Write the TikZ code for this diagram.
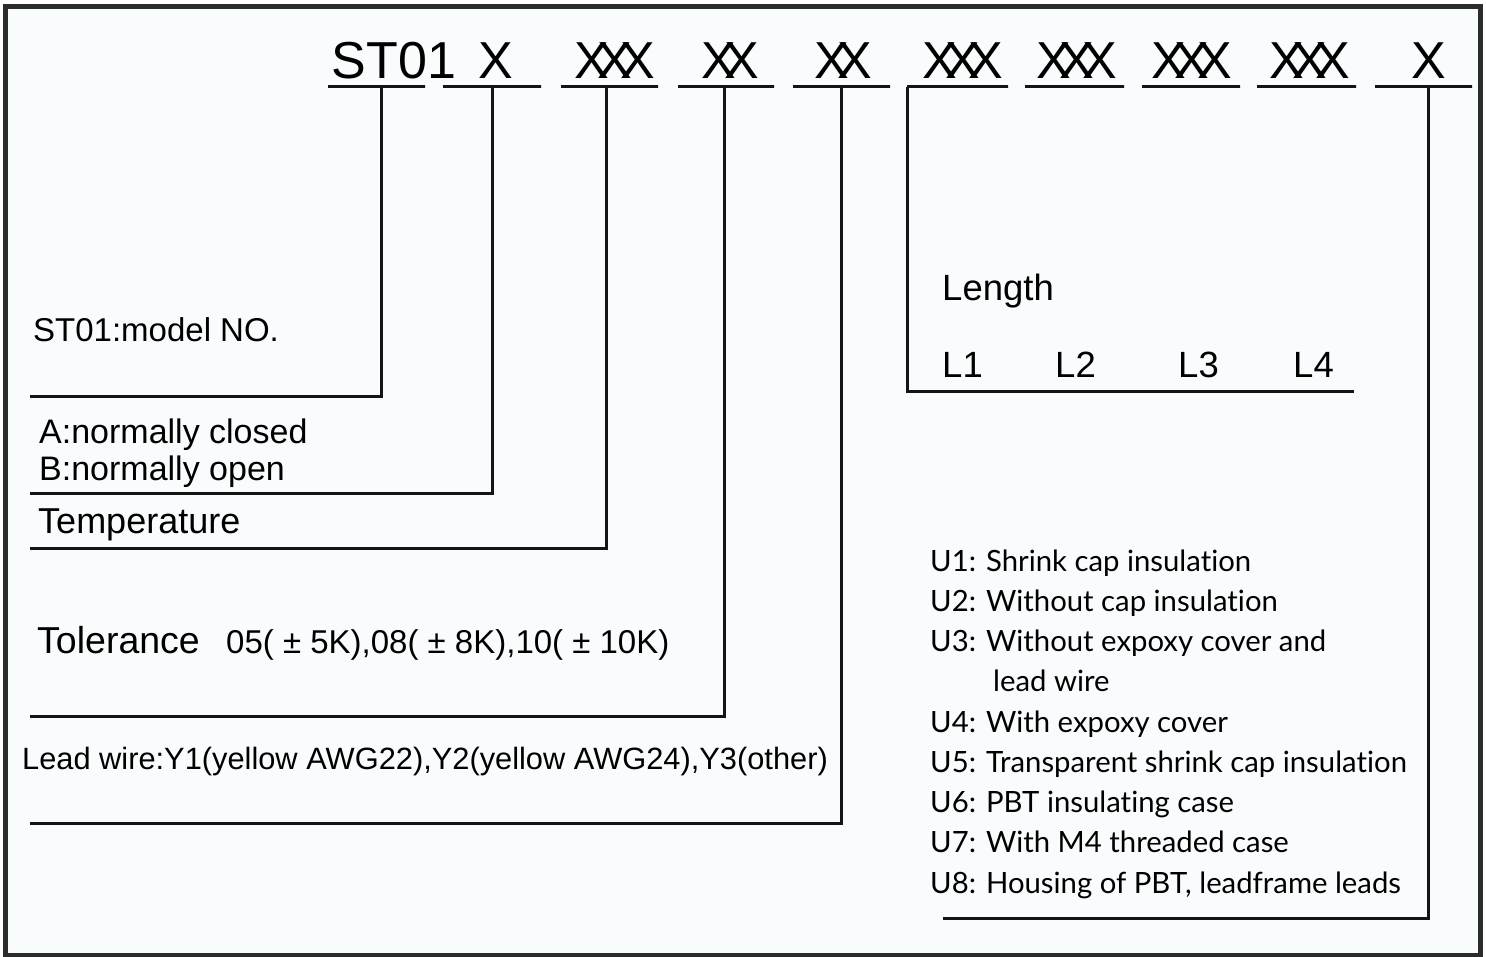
\documentclass[tikz,border=0pt]{standalone}
\usepackage{fontspec}
\setmainfont{Liberation Sans}
\newfontfamily\listfont[Ligatures=NoCommon]{Lato}
\usepackage{tikz}
\definecolor{paper}{RGB}{248,252,252}
\definecolor{ink}{RGB}{20,20,20}
\newcommand{\fs}[1]{\fontsize{#1}{#1}\selectfont}
\newcommand{\dblx}{X\kern-.22em X}
\newcommand{\tripx}{X\kern-.22em X\kern-.22em X}

\begin{document}
\begin{tikzpicture}[x=1pt, y=-1pt,
    rule/.style={draw=ink, line width=3pt},
    bar/.style={draw=ink, line width=3pt, inner sep=0pt, outer sep=0pt, minimum height=0pt, minimum width=98pt},
    code/.style={anchor=base, inner sep=0pt, font=\fs{52}},
    lbl/.style={anchor=base west, inner sep=0pt, font=\fs{33}},
    item/.style={anchor=base west, inner sep=0pt, font=\listfont\fs{29.3}}]
    \useasboundingbox (0,0) rectangle (1486,957);
    \draw[fill=paper, draw=ink!90, line width=5pt] (5.5,6.5) rectangle (1480,955);

    % code fields
    \node (tst)  [code] at (394,79)  {ST01};
    \node (tx)   [code] at (496,79)  {X};
    \node (ttmp) [code] at (615,79)  {\tripx};
    \node (ttol) [code] at (730,79)  {\dblx};
    \node (twir) [code] at (843,79)  {\dblx};
    \node (tl1)  [code] at (963,79)  {\tripx};
    \node (tl2)  [code] at (1077,79) {\tripx};
    \node (tl3)  [code] at (1192,79) {\tripx};
    \node (tl4)  [code] at (1310,79) {\tripx};
    \node (tu)   [code] at (1429,79) {X};

    % underlines
    \node (st)  [bar, minimum width=97pt] at (376.5,87) {};
    \node (x)   [bar] at (492,87) {};
    \node (tmp) [bar, minimum width=97pt] at (609.5,87) {};
    \node (tol) [bar, minimum width=96pt] at (726,87) {};
    \node (wir) [bar, minimum width=97pt] at (841.5,87) {};
    \node (l1)  [bar, minimum width=101pt] at (957.5,87) {};
    \node (l2)  [bar, minimum width=99pt] at (1074.5,87) {};
    \node (l3)  [bar] at (1191,87) {};
    \node (l4)  [bar, minimum width=99pt] at (1306.5,87) {};
    \node (u)   [bar, minimum width=97pt] at (1423.5,87) {};

    % left labels
    \node (model) [lbl] at (33,342) {ST01:model NO.};
    \node (ab)    [lbl, font=\fs{34}] at (39,443) {A:normally closed};
    \node (b)     [lbl, font=\fs{34}] at (39,480) {B:normally open};
    \node (temp)  [lbl, font=\fs{36}] at (38,533) {Temperature};
    \node (tolt)  [lbl, font=\fs{37.5}] at (37,653) {Tolerance};
    \node (tolv)  [lbl] at (226,653) {05( ± 5K),08( ± 8K),10( ± 10K)};
    \node (lead)  [lbl, font=\fs{30.8}] at (22,769) {Lead wire:Y1(yellow AWG22),Y2(yellow AWG24),Y3(other)};

    % length block
    \node (len) [lbl, font=\fs{36.5}] at (942,301) {Length};
    \node (n1)  [lbl, font=\fs{36.5}] at (942,378)  {L1};
    \node (n2)  [lbl, font=\fs{36.5}] at (1055,378) {L2};
    \node (n3)  [lbl, font=\fs{36.5}] at (1178,378) {L3};
    \node (n4)  [lbl, font=\fs{36.5}] at (1293,378) {L4};

    % U options
    \node (u1) [item] at (930,571) {U1: Shrink cap insulation};
    \node (u2) [item] at (930,611.25) {U2: Without cap insulation};
    \node (u3) [item] at (930,651.5) {U3: Without expoxy cover and};
    \node (u3b) [item] at (993,691.75) {lead wire};
    \node (u4) [item] at (930,732) {U4: With expoxy cover};
    \node (u5) [item] at (930,772.25) {U5: Transparent shrink cap insulation};
    \node (u6) [item] at (930,812.5) {U6: PBT insulating case};
    \node (u7) [item] at (930,852.75) {U7: With M4 threaded case};
    \node (u8) [item] at (930,893) {U8: Housing of PBT, leadframe leads};

    % line ends
    \coordinate (m1) at (30,397);
    \coordinate (m2) at (30,493);
    \coordinate (m3) at (30,548);
    \coordinate (m4) at (30,716);
    \coordinate (m5) at (30,823);
    \coordinate (lend) at (1354,392);
    \coordinate (uend) at (943,918);

    % connectors
    \draw[rule] ([xshift=5pt]st.south) |- (m1);
    \draw[rule] (x.south) |- (m2);
    \draw[rule] ([xshift=-3pt]tmp.south) |- (m3);
    \draw[rule] ([xshift=-2pt]tol.south) |- (m4);
    \draw[rule] (wir.south) |- (m5);
    \draw[rule] (l1.south west) |- (lend);
    \draw[rule] ([xshift=5pt]u.south) |- (uend);
\end{tikzpicture}
\end{document}
